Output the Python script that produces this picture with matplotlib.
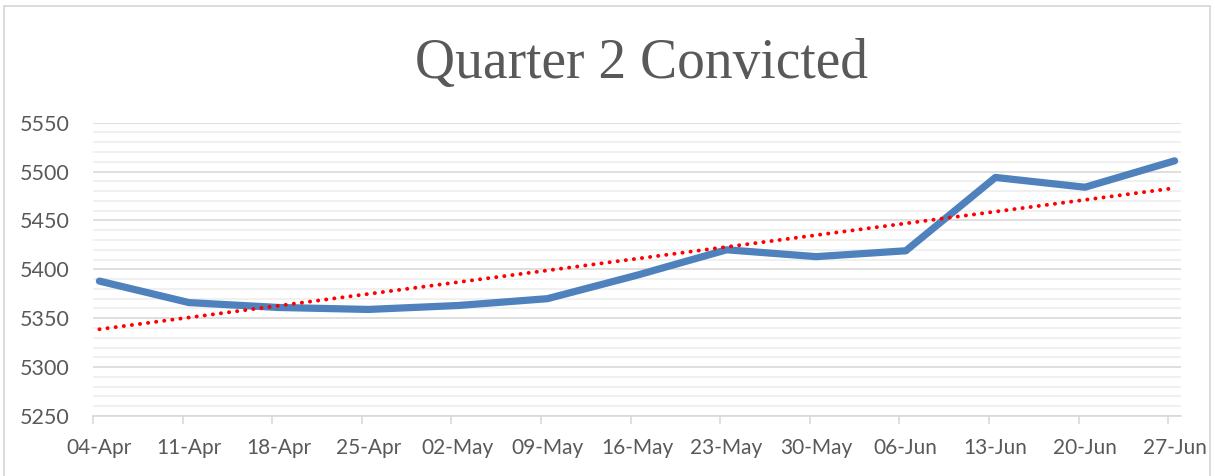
import matplotlib
matplotlib.use("Agg")
import matplotlib.pyplot as plt
import numpy as np
from matplotlib.ticker import MultipleLocator, FixedLocator, NullFormatter
from matplotlib.patches import Rectangle

# Data
categories = ["04-Apr", "11-Apr", "18-Apr", "25-Apr", "02-May", "09-May", "16-May",
              "23-May", "30-May", "06-Jun", "13-Jun", "20-Jun", "27-Jun"]
convicted = [5388, 5366, 5361, 5359, 5363, 5370, 5394, 5420, 5413, 5419, 5494, 5484, 5511]
title = "Quarter 2 Convicted"
y_min, y_max = 5250, 5550

W, H = 1215, 476
fig = plt.figure(figsize=(W / 100, H / 100), dpi=100)
fig.patch.set_facecolor("white")

# outer chart border
fig.patches.append(Rectangle((4 / W, -0.05), (1210 - 4) / W, 1.05 - 6 / H,
                             transform=fig.transFigure, fill=False,
                             edgecolor="#d9d9d9", linewidth=1.3, zorder=0))

left, right = 93 / W, 1181 / W
bottom, top = 1 - 416 / H, 1 - 122.7 / H
ax = fig.add_axes([left, bottom, right - left, top - bottom])

x = np.arange(len(categories))
half = 0.5 / 7

# gridlines
ax.yaxis.set_major_locator(MultipleLocator(50))
ax.yaxis.set_minor_locator(MultipleLocator(10))
ax.grid(True, which="minor", axis="y", color="#eeeeee", linewidth=1.2, zorder=0)
ax.grid(True, which="major", axis="y", color="#d9d9d9", linewidth=1.2, zorder=0)
ax.set_axisbelow(True)

# series
ax.plot(x, convicted, color="#4f81bd", linewidth=5.2, solid_capstyle="round",
        solid_joinstyle="round", zorder=3)

# linear trendline
coef = np.polyfit(x, convicted, 1)
trend = np.polyval(coef, x)
ax.plot(x, trend, color="#ff0000", linewidth=2.8, linestyle=(0, (0.05, 2.05)),
        dash_capstyle="round", zorder=4)

ax.set_xlim(-half, len(categories) - 1 + half)
ax.set_ylim(y_min, y_max)

# x ticks: labels centered on points, tick marks at day boundaries
ax.xaxis.set_major_locator(FixedLocator(x))
ax.set_xticklabels(categories)
ax.xaxis.set_minor_locator(FixedLocator(x - half))
ax.xaxis.set_minor_formatter(NullFormatter())
ax.tick_params(axis="x", which="major", length=0, pad=16, labelsize=15,
               labelcolor="#595959")
ax.tick_params(axis="x", which="minor", length=6, width=1.2, color="#d9d9d9",
               direction="out")
ax.tick_params(axis="y", which="both", length=0, pad=17, labelsize=15.5,
               labelcolor="#595959")

for lab in ax.get_xticklabels() + ax.get_yticklabels():
    lab.set_fontfamily("Lato")

for s in ["top", "right", "left"]:
    ax.spines[s].set_visible(False)
ax.spines["bottom"].set_color("#d9d9d9")
ax.spines["bottom"].set_linewidth(1.2)

fig.text(642 / W, 1 - 78 / H, title, ha="center", va="baseline",
         fontsize=40, color="#595959", family="Liberation Serif")

fig.savefig("out.png", dpi=100, facecolor="white")
